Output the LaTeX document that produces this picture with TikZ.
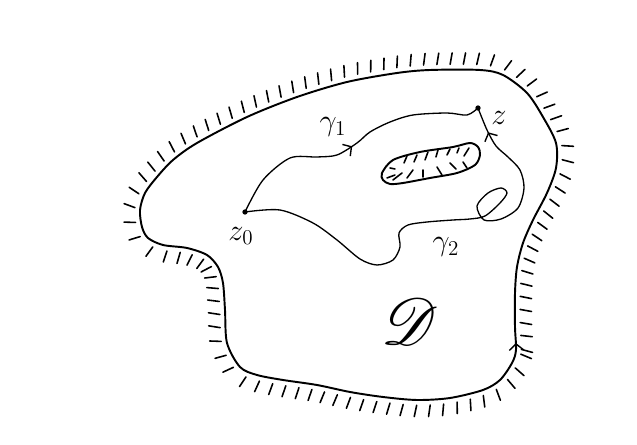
\documentclass[tikz,border=0pt]{standalone}
\usepackage{amsmath,amssymb,mathrsfs}
\usetikzlibrary{arrows.meta,decorations.markings}

\tikzset{
  rim/.style={line width=1.1pt, line join=round},
  curve/.style={line width=0.75pt, line join=round},
  hatch/.style={line width=0.9pt, line cap=round},
  hatchout/.style={postaction={decorate,decoration={markings,
      mark=between positions 0 and 1 step 7.5pt with {\draw[hatch] (0.6pt,-3pt) -- (-0.6pt,-9.5pt);}}}},
  flowtip/.style={postaction={decorate,decoration={markings,
      mark=at position #1 with {\arrow[line width=0.8pt]{Straight Barb[length=3.5pt,width=8pt]}}}}},
  lbl/.style={font=\LARGE},
}

\begin{document}
\begin{tikzpicture}[x=0.02cm, y=-0.02cm]
  \useasboundingbox (0,0) rectangle (637,445);

  % domain D with its outer boundary
  \draw[rim, hatchout, flowtip=4pt] plot[smooth cycle] coordinates {
    (512,363) (516,350) (515,327) (515,293) (517,267) (523,243) (533,220)
    (547,193) (556,168) (556,143) (543,117) (527,93) (503,75) (480,70)
    (430,70) (397,73) (347,82) (297,97) (247,117) (197,143) (173,160)
    (157,177) (145,193) (140,210) (142,227) (148,238) (163,245) (187,248)
    (207,255) (218,267) (223,283) (225,310) (227,343) (240,367) (257,375)
    (283,380) (317,385) (350,392) (383,397) (417,400) (450,398) (483,390)
    (500,380)};

  % the hole
  \draw[rim] plot[smooth cycle] coordinates {
    (382,173) (393,160) (420,152) (453,147) (470,143) (478,147) (480,155)
    (475,165) (457,173) (430,178) (403,183) (390,184) (383,180)};
  \foreach \xa/\ya/\xb/\yb in {407/156/404/163, 417/155/414/162, 428/152/425/160,
      438/150/436/157, 450/149/447/155, 459/148/457/153, 469/148/464/156,
      463/162/467/168, 450/163/456/169, 437/167/442/175, 423/170/423/177,
      413/170/407/178, 402/173/393/180, 395/175/387/178, 390/168/395/169}
    \draw[hatch] (\xa,\ya) -- (\xb,\yb);

  \coordinate (z0) at (245,212);
  \coordinate (z) at (478,108);

  % gamma_1
  \draw[curve, flowtip=0.5] plot[smooth] coordinates {
    (z0) (263,180) (290,158) (317,157) (337,155) (357,143) (370,132)
    (390,122) (413,115) (447,113) (467,115) (z)};

  % gamma_2
  \draw[curve, flowtip=0.95] plot[smooth] coordinates {
    (z0) (280,210) (313,223) (337,240) (360,259) (377,265) (393,260)
    (400,247) (399,233) (408,225) (427,222) (453,220) (470,219) (485,216)
    (500,203) (507,193) (501,188) (488,193) (477,206) (484,220) (501,219)
    (518,208) (524,188) (520,170) (508,157) (496,146) (487,130) (z)};

  \fill (z0) circle (1.5pt);
  \fill (z) circle (1.5pt);

  \node[lbl] (z0lbl) at (241,236) {$z_0$};
  \node[lbl] (zlbl) at (499,118) {$z$};
  \node[lbl] (g1lbl) at (333,127) {$\gamma_1$};
  \node[lbl] (g2lbl) at (446,247) {$\gamma_2$};
  \node[font=\Huge, scale=1.5] (dlbl) at (410,322) {$\mathscr{D}$};
\end{tikzpicture}
\end{document}
